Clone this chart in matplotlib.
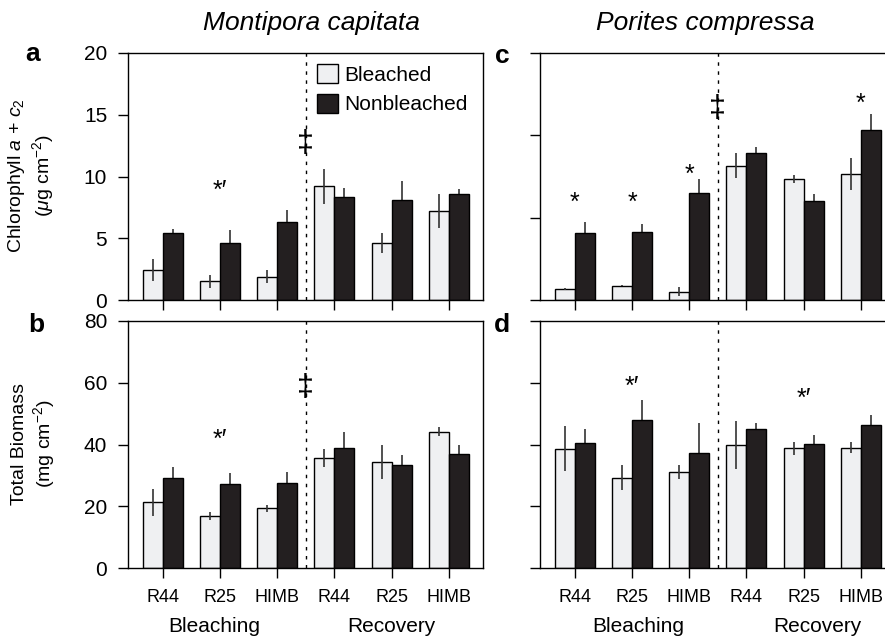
import matplotlib
matplotlib.use("Agg")
import matplotlib.pyplot as plt
import matplotlib.transforms as mtransforms
import numpy as np

plt.rcParams["font.family"] = ["Liberation Sans", "DejaVu Sans"]
plt.rcParams["mathtext.fontset"] = "custom"
plt.rcParams["mathtext.rm"] = "Liberation Sans"
plt.rcParams["mathtext.it"] = "Liberation Sans:italic"

# reef sites, bleaching period then recovery period
sites = ["R44", "R25", "HIMB", "R44", "R25", "HIMB"]
periods = ["Bleaching", "Recovery"]

# chlorophyll a + c2 (ug cm-2)
chl_mc_bleached = [2.4, 1.5, 1.9, 9.2, 4.6, 7.2]
chl_mc_bleached_err = [0.9, 0.5, 0.5, 1.4, 0.8, 1.4]
chl_mc_nonbleached = [5.4, 4.6, 6.3, 8.3, 8.1, 8.6]
chl_mc_nonbleached_err = [0.35, 1.1, 1.0, 0.75, 1.5, 0.4]

chl_pc_bleached = [0.65, 0.87, 0.5, 8.15, 7.35, 7.65]
chl_pc_bleached_err = [0.06, 0.04, 0.28, 0.75, 0.25, 1.0]
chl_pc_nonbleached = [4.07, 4.1, 6.5, 8.9, 6.0, 10.3]
chl_pc_nonbleached_err = [0.65, 0.5, 0.87, 0.4, 0.45, 1.0]

# total biomass (mg cm-2)
bio_mc_bleached = [21.3, 16.7, 19.3, 35.7, 34.3, 44.2]
bio_mc_bleached_err = [4.3, 1.3, 1.1, 3.0, 5.6, 1.6]
bio_mc_nonbleached = [29.1, 27.2, 27.4, 39.0, 33.3, 36.9]
bio_mc_nonbleached_err = [3.5, 3.7, 3.6, 5.2, 3.3, 3.0]

bio_pc_bleached = [38.7, 29.3, 31.1, 39.9, 38.8, 39.0]
bio_pc_bleached_err = [7.2, 3.9, 2.3, 7.8, 2.1, 1.8]
bio_pc_nonbleached = [40.6, 48.0, 37.4, 45.1, 40.2, 46.4]
bio_pc_nonbleached_err = [4.4, 6.5, 9.5, 1.9, 3.0, 3.2]

# significance marks: (group position, value, symbol)
marks_a = [(2, 8.8, "*′"), (3.5, 12.6, "‡")]
marks_b = [(2, 41.5, "*′"), (3.5, 58.2, "‡")]
marks_c = [(1, 5.9, "*"), (2, 5.9, "*"), (3, 7.6, "*"), (6, 11.9, "*"), (3.5, 11.6, "‡")]
marks_d = [(2, 58.8, "*′"), (5, 54.7, "*′")]

LIGHT = "#eff0f2"
DARK = "#231f20"
W = 0.35

fig = plt.figure(figsize=(8.85, 6.42), dpi=100)
fw, fh = 885, 642


def px_axes(x0, y0, x1, y1):
    return fig.add_axes([x0 / fw, 1 - y1 / fh, (x1 - x0) / fw, (y1 - y0) / fh])


ax_a = px_axes(128, 53, 483, 300)
ax_b = px_axes(128, 321, 483, 568)
ax_c = px_axes(540, 53, 895, 300)
ax_d = px_axes(540, 321, 895, 568)

x = np.arange(1, len(sites) + 1)


def draw_panel(ax, bl, bl_err, nb, nb_err, ymax, yticks, marks, show_y, show_x):
    ax.bar(x - W, bl, W, align="edge", color=LIGHT, edgecolor="black", linewidth=1.0, zorder=2)
    ax.bar(x, nb, W, align="edge", color=DARK, edgecolor="black", linewidth=1.0, zorder=2)
    ax.errorbar(x - W / 2, bl, yerr=bl_err, fmt="none", ecolor="#333333", elinewidth=1.2, capsize=0, zorder=3)
    ax.errorbar(x + W / 2, nb, yerr=nb_err, fmt="none", ecolor="#333333", elinewidth=1.2, capsize=0, zorder=1)
    ax.axvline(3.5, color="black", lw=1.0, linestyle=(0, (2.5, 4)), zorder=0)
    ax.set_xlim(0.39, 6.6)
    ax.set_ylim(0, ymax)
    ax.set_yticks(yticks)
    ax.set_xticks(x)
    ax.tick_params(axis="y", direction="out", length=7, width=1, pad=8, labelsize=15)
    ax.tick_params(axis="x", direction="out", length=7, width=1, pad=8, labelsize=13)
    if not show_y:
        ax.set_yticklabels([])
    if show_x:
        ax.set_xticklabels(sites)
    else:
        ax.set_xticklabels([])
    for s in ax.spines.values():
        s.set_linewidth(1.0)
    for xm, ym, sym in marks:
        size = 22 if sym == "‡" else 18
        ax.text(xm, ym, sym, ha="center", va="center", fontsize=size)


draw_panel(ax_a, chl_mc_bleached, chl_mc_bleached_err, chl_mc_nonbleached,
           chl_mc_nonbleached_err, 20, [0, 5, 10, 15, 20], marks_a, True, False)
draw_panel(ax_b, bio_mc_bleached, bio_mc_bleached_err, bio_mc_nonbleached,
           bio_mc_nonbleached_err, 80, [0, 20, 40, 60, 80], marks_b, True, True)
draw_panel(ax_c, chl_pc_bleached, chl_pc_bleached_err, chl_pc_nonbleached,
           chl_pc_nonbleached_err, 15, [0, 5, 10, 15], marks_c, False, False)
draw_panel(ax_d, bio_pc_bleached, bio_pc_bleached_err, bio_pc_nonbleached,
           bio_pc_nonbleached_err, 80, [0, 20, 40, 60, 80], marks_d, False, True)

# legend in panel a
handles = [plt.Rectangle((0, 0), 1, 1, facecolor=LIGHT, edgecolor="black", lw=1.0),
           plt.Rectangle((0, 0), 1, 1, facecolor=DARK, edgecolor="black", lw=1.0)]
ax_a.legend(handles, ["Bleached", "Nonbleached"], loc="upper left",
            bbox_to_anchor=(0.532, 0.955), frameon=False, fontsize=15,
            handlelength=1.0, handleheight=1.0, handletextpad=0.3,
            labelspacing=0.45, borderpad=0, borderaxespad=0)

# species titles
fig.text(311 / fw, 1 - 23 / fh, "Montipora capitata", ha="center", va="center",
         fontsize=19, style="italic")
fig.text(705 / fw, 1 - 23 / fh, "Porites compressa", ha="center", va="center",
         fontsize=19, style="italic")

# panel letters
for lx, ly, lab in [(33, 54, "a"), (36, 325, "b"), (502, 56, "c"), (502, 325, "d")]:
    fig.text(lx / fw, 1 - ly / fh, lab, ha="center", va="center", fontsize=19, fontweight="bold")

# y labels
fig.text(31 / fw, 1 - 176 / fh, "Chlorophyll $\\it{a}$ + $\\it{c}_2$\n($\\mu$g cm$^{-2}$)",
         rotation=90, ha="center", va="center", fontsize=14, multialignment="center")
fig.text(34 / fw, 1 - 444 / fh, "Total Biomass\n(mg cm$^{-2}$)",
         rotation=90, ha="center", va="center", fontsize=14, multialignment="center")

# period labels below bottom panels
for ax, xb, xr in [(ax_b, 1.9, 5.0), (ax_d, 2.1, 5.25)]:
    trans = mtransforms.blended_transform_factory(ax.transData, fig.transFigure)
    ax.text(xb, 1 - 627 / fh, periods[0], transform=trans, ha="center", va="center", fontsize=15)
    ax.text(xr, 1 - 627 / fh, periods[1], transform=trans, ha="center", va="center", fontsize=15)

fig.savefig("out.png", dpi=100)
